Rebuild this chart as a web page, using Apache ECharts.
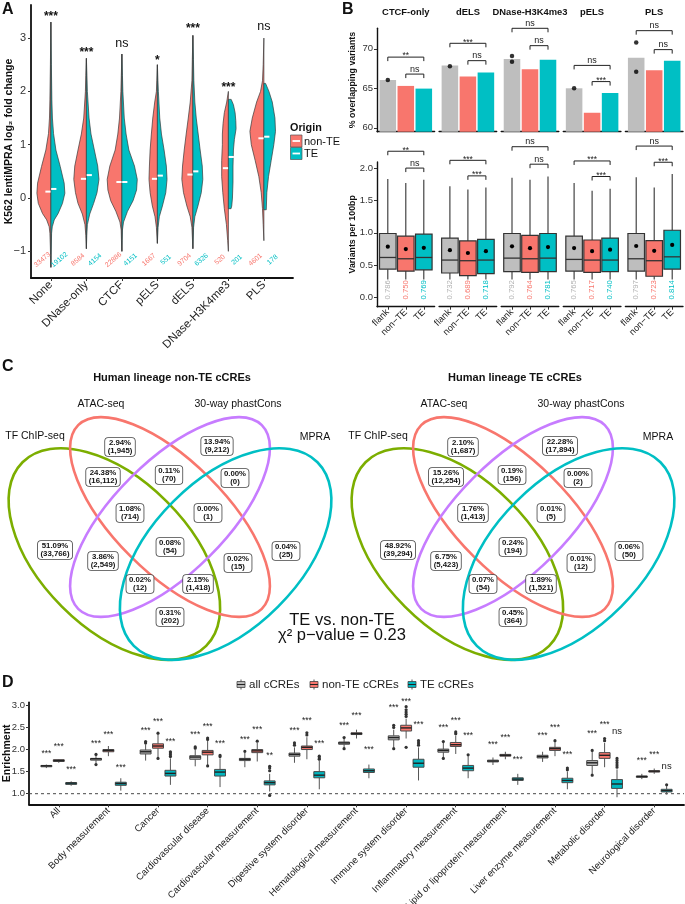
<!DOCTYPE html>
<html><head><meta charset="utf-8">
<script src="https://cdn.jsdelivr.net/npm/echarts@6/dist/echarts.min.js"></script>
<style>html,body{margin:0;padding:0;background:#fff}#c{width:685px;height:904px}</style>
</head><body><div id="c"></div><script>
const FONT = '"Liberation Sans", Arial, Helvetica, sans-serif';
const RED = '#F8766D', TEAL = '#00BFC4', GREY = '#BEBEBE';

// ---------------- Panel A data ----------------
const aCats = ['None','DNase-only','CTCF','pELS','dELS','DNase-H3K4me3','PLS'];
// violin half profiles: [log2FC, relative half-width]
const aNonTEProfile = [
 [[3.3,0],[2.5,0.035],[1.84,0.07],[1.5,0.1],[1.21,0.17],[0.9,0.36],[0.59,0.67],[0.28,0.95],[0.09,1.0],[-0.1,0.9],[-0.29,0.6],[-0.41,0.3],[-0.54,0.12],[-0.66,0.07],[-0.9,0.04],[-1.3,0]],
 [[2.62,0],[2.3,0.04],[2.0,0.07],[1.5,0.19],[1.2,0.36],[0.9,0.6],[0.6,0.83],[0.35,0.9],[0.1,0.78],[-0.1,0.6],[-0.3,0.29],[-0.5,0.1],[-0.7,0.04],[-0.95,0]],
 [[2.7,0],[2.3,0.04],[2.0,0.07],[1.5,0.17],[1.2,0.29],[0.9,0.48],[0.6,0.86],[0.35,1.05],[0.15,1.0],[-0.05,0.8],[-0.25,0.43],[-0.45,0.14],[-0.6,0.05],[-0.8,0.03],[-1.0,0]],
 [[2.5,0],[2.2,0.04],[2.0,0.07],[1.8,0.19],[1.5,0.33],[1.2,0.43],[0.9,0.52],[0.6,0.57],[0.35,0.6],[0.1,0.52],[-0.15,0.36],[-0.35,0.17],[-0.55,0.07],[-0.85,0]],
 [[3.05,0],[2.6,0.04],[2.2,0.07],[1.8,0.19],[1.5,0.33],[1.2,0.48],[0.9,0.62],[0.6,0.74],[0.35,0.79],[0.1,0.67],[-0.15,0.43],[-0.35,0.19],[-0.55,0.07],[-0.95,0]],
 [[2.0,0],[1.8,0.12],[1.6,0.29],[1.4,0.38],[1.2,0.43],[1.0,0.43],[0.7,0.48],[0.4,0.48],[0.1,0.4],[-0.2,0.29],[-0.5,0.14],[-0.8,0.05],[-1.0,0]],
 [[3.0,0],[2.5,0.05],[2.2,0.1],[2.0,0.24],[1.8,0.52],[1.5,0.83],[1.25,1.0],[1.0,0.9],[0.7,0.62],[0.4,0.36],[0.1,0.19],[-0.2,0.1],[-0.5,0.05],[-0.8,0]]
];
const aTEProfile = [
 [[3.3,0],[2.5,0.035],[1.84,0.07],[1.5,0.11],[1.21,0.19],[0.9,0.36],[0.59,0.67],[0.28,0.95],[0.09,1.0],[-0.1,0.83],[-0.29,0.52],[-0.41,0.24],[-0.54,0.1],[-0.66,0.05],[-0.9,0.03],[-1.3,0]],
 [[2.62,0],[2.3,0.04],[2.0,0.07],[1.5,0.19],[1.2,0.33],[0.9,0.57],[0.6,0.81],[0.35,0.9],[0.1,0.76],[-0.1,0.52],[-0.3,0.24],[-0.5,0.07],[-0.7,0.03],[-0.95,0]],
 [[2.7,0],[2.3,0.04],[2.0,0.07],[1.5,0.17],[1.2,0.3],[0.9,0.5],[0.6,0.9],[0.35,1.1],[0.15,1.05],[-0.05,0.8],[-0.25,0.4],[-0.45,0.12],[-0.6,0.04],[-0.8,0.02],[-1.0,0]],
 [[2.5,0],[2.2,0.04],[2.0,0.07],[1.5,0.17],[1.2,0.29],[0.9,0.48],[0.6,0.64],[0.35,0.69],[0.1,0.6],[-0.15,0.36],[-0.35,0.14],[-0.55,0.05],[-0.85,0]],
 [[3.05,0],[2.6,0.04],[2.2,0.07],[1.8,0.14],[1.5,0.24],[1.2,0.38],[0.9,0.52],[0.6,0.67],[0.35,0.71],[0.1,0.6],[-0.15,0.36],[-0.35,0.14],[-0.55,0.05],[-0.95,0]],
 [[1.85,0.2],[1.75,0.36],[1.6,0.48],[1.45,0.53],[1.3,0.55],[1.1,0.43],[0.9,0.36],[0.6,0.33],[0.3,0.33],[0.0,0.29],[-0.15,0.24],[-0.2,0.19]],
 [[2.15,0.12],[2.0,0.36],[1.8,0.6],[1.5,0.79],[1.25,0.83],[1.0,0.71],[0.7,0.52],[0.4,0.33],[0.1,0.21],[-0.22,0.17]]
];
const aMedNonTE = [0.12, 0.36, 0.30, 0.36, 0.44, 0.56, 1.12];
const aMedTE = [0.17, 0.43, 0.30, 0.42, 0.50, 0.77, 1.15];
const aSig = ['***','***','ns','*','***','***','ns'];
const aSigY = [3.46, 2.78, 2.9, 2.64, 3.23, 2.12, 3.21];
const aCountNonTE = [33473, 8584, 22886, 1667, 9704, 520, 4601];
const aCountTE = [19102, 4154, 4151, 551, 6326, 201, 178];
const aYTicks = [-1, 0, 1, 2, 3];

// ---------------- Panel B data ----------------
const bFacets = ['CTCF-only','dELS','DNase-H3K4me3','pELS','PLS'];
const bGroups = ['flank','non\u2212TE','TE'];
const bPctFlank = [66.06, 67.88, 68.7, 65.0, 68.86];
const bPctNonTE = [65.3, 66.5, 67.4, 61.9, 67.3];
const bPctTE = [64.96, 67.0, 68.6, 64.4, 68.5];
const bFlankDots = [[66.06],[67.8],[69.1,68.35],[65.0],[70.8,67.1]];
const bTopBigY = [68.95, 70.7, 72.6, 67.9, 72.3];
const bTopBigLab = ['**','***','ns','ns','ns'];
const bTopSmallY = [66.8, 68.5, 70.4, 65.85, 69.9];
const bTopSmallLab = ['ns','ns','ns','***','ns'];
const bTopTicks = [60, 65, 70];
// boxes: [lowerWhisker, q1, median, q3, upperWhisker]
const bBoxFlank = [[0.28,0.44,0.62,0.99,1.83],[0.28,0.38,0.58,0.92,1.72],[0.28,0.40,0.61,0.99,1.85],[0.28,0.41,0.59,0.95,1.77],[0.28,0.41,0.60,0.99,1.86]];
const bBoxNonTE = [[0.28,0.41,0.60,0.95,1.77],[0.28,0.34,0.57,0.875,1.67],[0.28,0.39,0.60,0.96,1.82],[0.28,0.39,0.58,0.89,1.65],[0.28,0.33,0.57,0.88,1.70]];
const bBoxTE = [[0.28,0.43,0.62,0.98,1.82],[0.28,0.37,0.58,0.90,1.70],[0.28,0.40,0.61,0.99,1.87],[0.28,0.40,0.58,0.92,1.68],[0.28,0.44,0.63,1.04,1.91]];
const bMeanFlank = [0.786, 0.732, 0.792, 0.765, 0.797];
const bMeanNonTE = [0.750, 0.689, 0.764, 0.717, 0.723];
const bMeanTE = [0.769, 0.718, 0.781, 0.740, 0.814];
const bBotBigY = [2.26, 2.12, 2.33, 2.11, 2.34];
const bBotBigLab = ['**','***','ns','***','ns'];
const bBotSmallY = [2.0, 1.88, 2.06, 1.87, 2.09];
const bBotSmallLab = ['ns','***','ns','***','***'];
const bBotTicks = [0, 0.5, 1, 1.5, 2];

// ---------------- Panel C data ----------------
const vennSets = ['TF ChIP-seq','ATAC-seq','30-way phastCons','MPRA'];
// regions: ATAC, phastCons, TF&ATAC, ATAC&phast, phast&MPRA, TF&ATAC&phast, ATAC&phast&MPRA,
// TF, all four, MPRA, TF&phast, ATAC&MPRA, TF&phast&MPRA, TF&ATAC&MPRA, TF&MPRA
const vennNonTECounts = [1945, 9212, 16112, 70, 0, 714, 1, 33766, 54, 25, 2549, 15, 12, 1418, 202];
const vennTECounts = [1687, 17894, 12254, 156, 2, 1413, 5, 39294, 194, 50, 5423, 12, 54, 1521, 364];
const chiP = 0.23;

// ---------------- Panel D data ----------------
const dCats = ['All','Body measurement','Cancer','Cardiovascular disease','Cardiovascular measurement','Digestive system disorder','Hematological measurement','Immune system disorder','Inflammatory measurement','Lipid or lipoprotein measurement','Liver enzyme measurement','Metabolic disorder','Neurological disorder'];
const dGroups = ['all cCREs','non-TE cCREs','TE cCREs'];
const dAllBox = [[1.58,1.61,1.63,1.64,1.66],[1.68,1.76,1.79,1.80,1.88],[1.75,1.90,1.95,1.99,2.12],[1.62,1.78,1.83,1.86,2.00],[1.60,1.75,1.78,1.80,1.93],[1.70,1.85,1.89,1.92,2.05],[2.03,2.12,2.15,2.17,2.25],[2.05,2.22,2.27,2.31,2.45],[1.82,1.94,1.98,2.01,2.15],[1.65,1.72,1.74,1.76,1.82],[1.72,1.81,1.84,1.87,1.95],[1.45,1.64,1.70,1.75,1.95],[1.33,1.37,1.39,1.40,1.45]];
const dNonTEBox = [[1.70,1.73,1.75,1.77,1.78],[1.85,1.95,1.98,2.00,2.08],[1.82,2.03,2.08,2.13,2.35],[1.65,1.88,1.94,1.98,2.20],[1.73,1.93,1.97,2.00,2.15],[1.78,2.00,2.05,2.08,2.28],[2.25,2.34,2.36,2.38,2.45],[2.25,2.42,2.49,2.55,2.70],[1.90,2.07,2.11,2.16,2.32],[1.78,1.85,1.87,1.89,1.95],[1.85,1.98,2.02,2.05,2.17],[1.60,1.80,1.87,1.93,2.15],[1.45,1.49,1.51,1.52,1.57]];
const dTEBox = [[1.18,1.21,1.24,1.25,1.28],[1.07,1.19,1.23,1.26,1.35],[1.20,1.40,1.46,1.53,1.80],[1.15,1.40,1.49,1.55,1.80],[1.05,1.20,1.25,1.29,1.45],[1.10,1.36,1.42,1.50,1.75],[1.35,1.48,1.52,1.56,1.66],[1.30,1.60,1.69,1.78,2.05],[1.35,1.52,1.58,1.64,1.85],[1.20,1.30,1.33,1.36,1.45],[1.10,1.25,1.30,1.35,1.50],[0.92,1.12,1.22,1.32,1.55],[0.98,1.04,1.07,1.10,1.17]];
const dAllOut = [[],[1.66,1.89],[2.15,2.18],[2.03,2.06],[1.96],[2.1,2.15],[2.02,2.27],[2.5,2.55,2.02],[2.18,1.80],[],[],[1.98,1.42],[]];
const dNonTEOut = [[],[],[2.37,1.80],[2.23,2.26,1.63],[2.19],[2.33,2.38],[],[2.75,2.8,2.85,2.9,2.97,2.05],[2.36,2.4],[],[2.2],[2.2,2.25],[]];
const dTEOut = [[],[],[1.84,1.88,1.92,1.95],[1.84,1.87],[1.52,1.58,1.62,0.96],[1.78,1.81,1.85],[],[2.1,2.15,2.2],[1.88],[],[1.54,1.58],[1.6,1.65,1.7,1.75,1.8],[1.2]];
const dAllSig = ['***','***','***','***','***','***','***','***','***','***','***','***','***'];
const dNonTESig = ['***','***','***','***','***','***','***','***','***','***','***','***','***'];
const dTESig = ['***','***','***','***','**','***','***','***','***','***','***','ns','ns'];
const dAllSigY = [1.97,2.20,2.49,2.40,2.28,2.49,2.60,3.01,2.55,2.16,2.36,2.41,1.80];
const dNonTESigY = [2.12,2.40,2.69,2.58,2.51,2.70,2.83,3.15,2.71,2.33,2.55,2.62,1.95];
const dTESigY = [1.59,1.65,2.24,2.20,1.92,2.18,2.05,2.62,2.37,1.83,1.95,2.41,1.61];
const dYTicks = [1, 1.5, 2, 2.5, 3];

// ---------------- layout ----------------
const VW = 0.394;               // violin max half-width (category units)
const bLefts = [377, 439.1, 501.2, 563.3, 625.4];
const bW = 57.6;

const gridBase = {containLabel:false, outerBoundsMode:'none'};
const grids = [Object.assign({left:31, top:5, width:262, height:273}, gridBase)];
bLefts.forEach(l => grids.push(Object.assign({left:l, top:28.3, width:bW, height:103.4}, gridBase)));
bLefts.forEach(l => grids.push(Object.assign({left:l, top:162, width:bW, height:144.7}, gridBase)));
grids.push(Object.assign({left:29, top:702.3, width:655, height:102}, gridBase));

const axLine = w => ({show:true, onZero:false, lineStyle:{color:'#111', width:w}});
const seq = n => Array.from({length:n}, (_, i) => i + 1);

const xAxes = [];
const yAxes = [];
// A
xAxes.push({gridIndex:0, type:'value', min:0.44, max:7.82, axisLine:axLine(1.8),
  axisTick:{show:true, customValues:seq(7), length:3, lineStyle:{color:'#333'}},
  axisLabel:{customValues:seq(7), formatter:v => aCats[Math.round(v)-1], rotate:45, fontSize:11.5, color:'#222', margin:5, fontFamily:FONT},
  splitLine:{show:false}});
yAxes.push({gridIndex:0, type:'value', min:-1.5, max:3.62, axisLine:axLine(1.8),
  axisTick:{show:true, customValues:aYTicks, length:3, lineStyle:{color:'#333'}},
  axisLabel:{customValues:aYTicks, formatter:v => (v < 0 ? '\u2212' + Math.abs(v) : String(v)), fontSize:11, color:'#333', margin:5, fontFamily:FONT},
  splitLine:{show:false},
  name:'K562 lentiMPRA log\u2082 fold change', nameLocation:'middle', nameGap:16, nameMoveOverlap:false,
  nameTextStyle:{fontWeight:'bold', fontSize:10.5, color:'#111', fontFamily:FONT}});
// B top
bFacets.forEach((f, i) => {
  xAxes.push({gridIndex:1+i, type:'value', min:0.4, max:3.6, axisLine:axLine(1.4), axisTick:{show:false}, axisLabel:{show:false}, splitLine:{show:false}});
  yAxes.push(i === 0 ? {gridIndex:1, type:'value', min:59.5, max:72.6, axisLine:axLine(1.4),
    axisTick:{show:true, customValues:bTopTicks, length:3, lineStyle:{color:'#333'}},
    axisLabel:{customValues:bTopTicks, fontSize:9.5, color:'#333', margin:4, fontFamily:FONT},
    splitLine:{show:false}, name:'% overlapping variants', nameLocation:'middle', nameGap:20, nameMoveOverlap:false,
    nameTextStyle:{fontWeight:'bold', fontSize:8.8, color:'#111', fontFamily:FONT}}
   : {gridIndex:1+i, type:'value', min:59.5, max:72.6, show:false, splitLine:{show:false}});
});
// B bottom
bFacets.forEach((f, i) => {
  xAxes.push({gridIndex:6+i, type:'value', min:0.4, max:3.6, axisLine:axLine(1.4),
    axisTick:{show:true, customValues:[1,2,3], length:3, lineStyle:{color:'#333'}},
    axisLabel:{customValues:[1,2,3], formatter:v => bGroups[Math.round(v)-1], rotate:45, fontSize:9.3, color:'#222', margin:4, fontFamily:FONT},
    splitLine:{show:false}});
  yAxes.push(i === 0 ? {gridIndex:6, type:'value', min:-0.14, max:2.094, axisLine:axLine(1.4),
    axisTick:{show:true, customValues:bBotTicks, length:3, lineStyle:{color:'#333'}},
    axisLabel:{customValues:bBotTicks, formatter:v => v.toFixed(1), fontSize:9.5, color:'#333', margin:4, fontFamily:FONT},
    splitLine:{show:false}, name:'Variants per 100bp', nameLocation:'middle', nameGap:20, nameMoveOverlap:false,
    nameTextStyle:{fontWeight:'bold', fontSize:8.8, color:'#111', fontFamily:FONT}}
   : {gridIndex:6+i, type:'value', min:-0.14, max:2.094, show:false, splitLine:{show:false}});
});
// D
xAxes.push({gridIndex:11, type:'value', min:0.4, max:13.6, axisLine:axLine(1.8),
  axisTick:{show:true, customValues:seq(13), length:3, lineStyle:{color:'#333'}},
  axisLabel:{customValues:seq(13), formatter:v => dCats[Math.round(v)-1], rotate:45, fontSize:9.5, color:'#222', margin:5, fontFamily:FONT},
  splitLine:{show:false}});
yAxes.push({gridIndex:11, type:'value', min:0.76, max:3.07, axisLine:axLine(1.8),
  axisTick:{show:true, customValues:dYTicks, length:3, lineStyle:{color:'#333'}},
  axisLabel:{customValues:dYTicks, formatter:v => v.toFixed(1), fontSize:9.5, color:'#333', margin:4, fontFamily:FONT},
  splitLine:{show:false}, name:'Enrichment', nameLocation:'middle', nameGap:16, nameMoveOverlap:false,
  nameTextStyle:{fontWeight:'bold', fontSize:10.5, color:'#111', fontFamily:FONT}});

// ---------------- render functions ----------------
function isStar(s){ return s.indexOf('*') >= 0; }

function renderViolin(params, api){
  const i = params.dataIndex, cx = api.value(0);
  const kids = [];
  [[aNonTEProfile[i], -1, RED], [aTEProfile[i], 1, TEAL]].forEach(([prof, dir, col]) => {
    const pts = [api.coord([cx, prof[0][0]])];
    prof.forEach(([y, w]) => pts.push(api.coord([cx + dir * w * VW, y])));
    pts.push(api.coord([cx, prof[prof.length-1][0]]));
    kids.push({type:'polygon', shape:{points:pts}, style:{fill:col, stroke:'#3a3a3a', lineWidth:0.7}});
  });
  const c = api.coord([cx, 0])[0];
  const m1 = api.coord([cx, aMedNonTE[i]])[1], m2 = api.coord([cx, aMedTE[i]])[1];
  kids.push({type:'line', shape:{x1:c-5.5, y1:m1, x2:c-0.3, y2:m1}, style:{stroke:'#fff', lineWidth:2}});
  kids.push({type:'line', shape:{x1:c+0.3, y1:m2, x2:c+5.5, y2:m2}, style:{stroke:'#fff', lineWidth:2}});
  const s = api.coord([cx, aSigY[i]]);
  const st = isStar(aSig[i]);
  kids.push({type:'text', x:s[0], y:s[1] + (st ? 3 : 0), style:{text:aSig[i], fill:'#111', fontSize:st ? 12 : 12.5, fontFamily:FONT, fontWeight:st ? 'bold' : 'normal', align:'center', verticalAlign:'middle'}});
  const cp = api.coord([cx, -1.16]);
  const rot = 40 * Math.PI / 180;
  kids.push({type:'text', x:c-8.5, y:cp[1], rotation:rot, style:{text:String(aCountNonTE[i]), fill:RED, fontSize:7, fontFamily:FONT, align:'center', verticalAlign:'middle'}});
  kids.push({type:'text', x:c+8.5, y:cp[1], rotation:rot, style:{text:String(aCountTE[i]), fill:TEAL, fontSize:7, fontFamily:FONT, align:'center', verticalAlign:'middle'}});
  return {type:'group', children:kids};
}

function makeBarRender(cols){
  return function(params, api){
    const x = api.value(0), v = api.value(1);
    const tl = api.coord([x - 0.46, v]);
    const r = api.coord([x + 0.46, v])[0];
    const bottom = params.coordSys.y + params.coordSys.height;
    return {type:'rect', shape:{x:tl[0], y:tl[1], width:r - tl[0], height:bottom - tl[1]}, style:{fill:cols[params.dataIndex]}};
  };
}

function makeBracket(labels){
  return function(params, api){
    const x1 = api.value(0), x2 = api.value(1), y = api.value(2);
    const a = api.coord([x1, y]), b = api.coord([x2, y]);
    const t = 4, lab = labels[params.dataIndex], st = isStar(lab);
    return {type:'group', children:[
      {type:'polyline', shape:{points:[[a[0], a[1]+t],[a[0], a[1]],[b[0], b[1]],[b[0], b[1]+t]]}, style:{stroke:'#222', lineWidth:1, fill:null}},
      {type:'text', x:(a[0]+b[0])/2, y:a[1] + (st ? 3.5 : -0.5), style:{text:lab, fontSize:st ? 8.5 : 9, fontFamily:FONT, fill:'#222', align:'center', verticalAlign:'bottom'}}
    ]};
  };
}

function makeBoxRender(cols){
  return function(params, api){
    const i = params.dataIndex;
    const x = api.value(0), lo = api.value(1), q1 = api.value(2), md = api.value(3), q3 = api.value(4), hi = api.value(5), mean = api.value(6);
    const hw = 0.46;
    const pLo = api.coord([x, lo]), pHi = api.coord([x, hi]);
    const pQ1 = api.coord([x - hw, q1]), pQ3 = api.coord([x + hw, q3]);
    const yMd = api.coord([x, md])[1], pMean = api.coord([x, mean]);
    const pLab = api.coord([x, -0.03]);
    const stroke = '#333';
    return {type:'group', children:[
      {type:'line', shape:{x1:pHi[0], y1:pHi[1], x2:pHi[0], y2:pQ3[1]}, style:{stroke:stroke, lineWidth:1.1}},
      {type:'line', shape:{x1:pLo[0], y1:pLo[1], x2:pLo[0], y2:pQ1[1]}, style:{stroke:stroke, lineWidth:1.1}},
      {type:'rect', shape:{x:pQ1[0], y:pQ3[1], width:pQ3[0]-pQ1[0], height:pQ1[1]-pQ3[1]}, style:{fill:cols[i], stroke:stroke, lineWidth:1.2}},
      {type:'line', shape:{x1:pQ1[0], y1:yMd, x2:pQ3[0], y2:yMd}, style:{stroke:stroke, lineWidth:1.3}},
      {type:'circle', shape:{cx:pMean[0], cy:pMean[1], r:2.1}, style:{fill:'#000'}},
      {type:'text', x:pLab[0], y:pLab[1], rotation:Math.PI/2, style:{text:mean.toFixed(3), fill:cols[i] === GREY ? '#B3B3B3' : cols[i], fontSize:7.8, fontFamily:FONT, align:'left', verticalAlign:'middle'}}
    ]};
  };
}

function makeDRender(outs, sigs, sigY, off, col, medCol){
  return function(params, api){
    const i = params.dataIndex;
    const x = api.value(0) + off;
    const lo = api.value(1), q1 = api.value(2), md = api.value(3), q3 = api.value(4), hi = api.value(5);
    const hw = 0.11;
    const pLo = api.coord([x, lo]), pHi = api.coord([x, hi]);
    const pQ1 = api.coord([x - hw, q1]), pQ3 = api.coord([x + hw, q3]);
    const yMd = api.coord([x, md])[1];
    const kids = [
      {type:'line', shape:{x1:pHi[0], y1:pHi[1], x2:pHi[0], y2:pQ3[1]}, style:{stroke:'#555', lineWidth:1}},
      {type:'line', shape:{x1:pLo[0], y1:pLo[1], x2:pLo[0], y2:pQ1[1]}, style:{stroke:'#555', lineWidth:1}},
      {type:'rect', shape:{x:pQ1[0], y:pQ3[1], width:pQ3[0]-pQ1[0], height:Math.max(1, pQ1[1]-pQ3[1])}, style:{fill:col, stroke:'#4a4a4a', lineWidth:1}},
      {type:'line', shape:{x1:pQ1[0], y1:yMd, x2:pQ3[0], y2:yMd}, style:{stroke:medCol, lineWidth:1.4}}
    ];
    outs[i].forEach(v => {
      const p = api.coord([x, v]);
      kids.push({type:'circle', shape:{cx:p[0], cy:p[1], r:1.6}, style:{fill:'#333'}});
    });
    const s = api.coord([x, sigY[i]]), st = isStar(sigs[i]);
    kids.push({type:'text', x:s[0], y:s[1] + (st ? 2.5 : 0), style:{text:sigs[i], fill:'#222', fontSize:st ? 8.5 : 9.5, fontFamily:FONT, align:'center', verticalAlign:'middle'}});
    return {type:'group', children:kids};
  };
}

// ---------------- series ----------------
const series = [];
series.push({type:'custom', name:'violin', xAxisIndex:0, yAxisIndex:0, silent:true, clip:false,
  data:aCats.map((c, i) => [i + 1, 0]), renderItem:renderViolin});

bFacets.forEach((f, i) => {
  series.push({type:'custom', xAxisIndex:1+i, yAxisIndex:1+i, silent:true,
    data:[[1, bPctFlank[i]], [2, bPctNonTE[i]], [3, bPctTE[i]]], renderItem:makeBarRender([GREY, RED, TEAL])});
  series.push({type:'scatter', xAxisIndex:1+i, yAxisIndex:1+i, silent:true, symbolSize:4.5,
    itemStyle:{color:'#000'}, data:bFlankDots[i].map(v => [1, v])});
  series.push({type:'custom', xAxisIndex:1+i, yAxisIndex:1+i, silent:true, clip:false,
    data:[[1, 3, bTopBigY[i]], [2, 3, bTopSmallY[i]]], renderItem:makeBracket([bTopBigLab[i], bTopSmallLab[i]])});
  const boxes = [bBoxFlank[i], bBoxNonTE[i], bBoxTE[i]];
  const means = [bMeanFlank[i], bMeanNonTE[i], bMeanTE[i]];
  series.push({type:'custom', xAxisIndex:6+i, yAxisIndex:6+i, silent:true, clip:false,
    data:boxes.map((b, k) => [k + 1].concat(b, [means[k]])), renderItem:makeBoxRender([GREY, RED, TEAL])});
  series.push({type:'custom', xAxisIndex:6+i, yAxisIndex:6+i, silent:true, clip:false,
    data:[[1, 3, bBotBigY[i]], [2, 3, bBotSmallY[i]]], renderItem:makeBracket([bBotBigLab[i], bBotSmallLab[i]])});
});

// D: dashed reference line at enrichment 1
series.push({type:'custom', xAxisIndex:11, yAxisIndex:11, silent:true, clip:false, data:[[1, 1]],
  renderItem:(params, api) => {
    const y = api.coord([1, api.value(1)])[1];
    return {type:'line', shape:{x1:params.coordSys.x, y1:y, x2:params.coordSys.x + params.coordSys.width, y2:y}, style:{stroke:'#333', lineWidth:0.9, lineDash:[3, 3]}};
  }});
[[dAllBox, dAllOut, dAllSig, dAllSigY, -0.25, '#B8B8B8', '#222'],
 [dNonTEBox, dNonTEOut, dNonTESig, dNonTESigY, 0, RED, '#222'],
 [dTEBox, dTEOut, dTESig, dTESigY, 0.25, '#00B5BE', '#222']].forEach(([boxes, outs, sigs, sigY, off, col, med], g) => {
  series.push({type:'custom', name:dGroups[g], xAxisIndex:11, yAxisIndex:11, silent:true, clip:false,
    data:boxes.map((b, i) => [i + 1].concat(b)), renderItem:makeDRender(outs, sigs, sigY, off, col, med)});
});

// ---------------- graphics (panel letters, strips, legends, Venn) ----------------
const G = [];
const txt = (x, y, text, o) => Object.assign({type:'text', x:x, y:y, silent:true, z:50,
  style:Object.assign({text:text, fill:'#111', fontFamily:FONT, fontSize:11, align:'left', verticalAlign:'middle'}, o || {})});

G.push(txt(2, 10, 'A', {fontSize:16, fontWeight:'bold'}));
G.push(txt(342, 10, 'B', {fontSize:16, fontWeight:'bold'}));
G.push(txt(2, 367, 'C', {fontSize:16, fontWeight:'bold'}));
G.push(txt(2, 683, 'D', {fontSize:16, fontWeight:'bold'}));

// strip titles for B
bFacets.forEach((f, i) => G.push(txt(bLefts[i] + bW/2, 12.5, f, {fontSize:9.4, fontWeight:'bold', align:'center'})));

// Legend A
G.push(txt(290, 128, 'Origin', {fontSize:10.8, fontWeight:'bold'}));
[['non-TE', RED], ['TE', TEAL]].forEach(([lab, col], k) => {
  const y0 = 135 + k * 12.5;
  G.push({type:'rect', silent:true, z:50, shape:{x:290.5, y:y0, width:11.5, height:12}, style:{fill:col, stroke:'#555', lineWidth:0.7}});
  G.push({type:'line', silent:true, z:51, shape:{x1:292.5, y1:y0+6, x2:300, y2:y0+6}, style:{stroke:'#fff', lineWidth:1.8}});
  G.push(txt(304, y0 + 6.5, lab, {fontSize:11}));
});

// Legend D
[[237, 'all cCREs', '#B8B8B8'], [310, 'non-TE cCREs', RED], [408, 'TE cCREs', '#00B5BE']].forEach(([x, lab, col]) => {
  const yc = 684.5;
  G.push({type:'line', silent:true, z:50, shape:{x1:x+4, y1:yc-5, x2:x+4, y2:yc+5}, style:{stroke:'#555', lineWidth:1}});
  G.push({type:'rect', silent:true, z:51, shape:{x:x, y:yc-3, width:8, height:6}, style:{fill:col, stroke:'#444', lineWidth:0.8}});
  G.push({type:'line', silent:true, z:52, shape:{x1:x, y1:yc, x2:x+8, y2:yc}, style:{stroke:'#222', lineWidth:1}});
  G.push(txt(x + 12, yc, lab, {fontSize:11.5, fill:'#222'}));
});

// Venn diagrams (layout in VennDiagram unit geometry)
const S = 371;
const vennShapes = [  // [dx, dy, a, b, rotation sign, colour]  centre offsets relative to ATAC/phastCons centre
  [-0.15, 0.10, 0.35, 0.20, -1, '#7CAE00'],
  [0, 0, 0.35, 0.15, -1, RED],
  [0, 0, 0.35, 0.15, 1, '#C77CFF'],
  [0.15, 0.10, 0.35, 0.20, 1, TEAL]
];
const vennLabelPos = [[-50,-70],[47,-71],[-67,-40],[-1,-42],[65,-39],[-40,-4],[38,-4],[-115,33],[0,30],[116,34],[-67,44],[68,46],[-30,67],[28,67],[0,100]];
const vennSetPos = [[-135,-81],[-69,-113],[68,-113],[145,-80]];
function buildVenn(cx, cy, counts, title){
  const total = counts.reduce((a, b) => a + b, 0);
  G.push(txt(cx + 2, cy - 139, title, {fontSize:11, fontWeight:'bold', align:'center'}));
  vennShapes.forEach(([dx, dy, a, b, sg, col]) => {
    G.push({type:'ellipse', silent:true, z:10, x:cx + dx*S, y:cy + dy*S, rotation:sg*Math.PI/4,
      shape:{cx:0, cy:0, rx:a*S, ry:b*S}, style:{fill:'none', stroke:col, lineWidth:2.6}});
  });
  vennSets.forEach((s, k) => G.push(txt(cx + vennSetPos[k][0], cy + vennSetPos[k][1], s, {fontSize:10.5, align:'center', fill:'#111'})));
  counts.forEach((n, k) => {
    const pct = (100 * n / total).toFixed(2) + '%';
    G.push(txt(cx + vennLabelPos[k][0], cy + vennLabelPos[k][1], pct + '\n(' + n.toLocaleString('en-US') + ')',
      {fontSize:7.8, fontWeight:'bold', align:'center', lineHeight:8.5, backgroundColor:'#fff', borderColor:'#444', borderWidth:0.8, borderRadius:3, padding:[1, 2.5, 0, 2.5]}));
  });
}
buildVenn(170, 517, vennNonTECounts, 'Human lineage non-TE cCREs');
buildVenn(513, 517, vennTECounts, 'Human lineage TE cCREs');
G.push(txt(342, 620, 'TE vs. non-TE', {fontSize:16.5, align:'center', fill:'#111'}));
G.push(txt(342, 635, '\u03C7\u00B2 p\u2212value = ' + chiP, {fontSize:16.5, align:'center', fill:'#111'}));

const chart = echarts.init(document.getElementById('c'), null, {renderer:'canvas', width:685, height:904});
chart.setOption({
  animation:false,
  backgroundColor:'#fff',
  textStyle:{fontFamily:FONT},
  grid:grids,
  xAxis:xAxes,
  yAxis:yAxes,
  series:series,
  graphic:{elements:G}
});
</script></body></html>
